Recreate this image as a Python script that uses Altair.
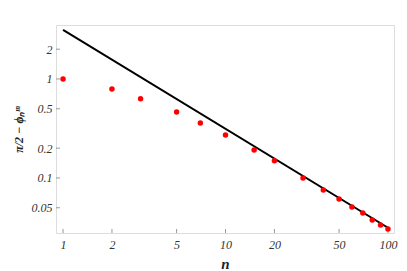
import altair as alt
import pandas as pd

# data
n_pts = [1, 2, 3, 5, 7, 10, 15, 20, 30, 40, 50, 60, 70, 80, 90, 100]
v_pts = [1.0, 0.79, 0.63, 0.464, 0.359, 0.272, 0.192, 0.149, 0.100, 0.0755,
         0.0614, 0.0510, 0.0443, 0.0376, 0.0334, 0.0305]
line_n = [1, 100]
line_v = [3.14, 0.0314]
x_ticks = [1, 2, 5, 10, 20, 50, 100]
y_ticks = [0.05, 0.1, 0.2, 0.5, 1, 2]

W, H = 338, 208
xs = alt.Scale(type="log", domain=[0.905, 108.9], nice=False)
ys = alt.Scale(type="log", domain=[0.0278, 3.51], nice=False)

FONT = "Liberation Serif, Times New Roman, serif"
xaxis = alt.Axis(values=x_ticks, format="~g", title="n", tickSize=0, domain=False,
                 grid=False, labelFont=FONT, labelFontStyle="italic", labelFontSize=12,
                 labelPadding=6, labelColor="#333", titleFont=FONT, titleFontStyle="italic",
                 titleFontWeight="bold", titleFontSize=15, titlePadding=6, titleColor="#222")
yaxis = alt.Axis(values=y_ticks, format="~g", title="π/2 − ϕₙᵐ", tickSize=0, domain=False,
                 grid=False, labelFont=FONT, labelFontStyle="italic", labelFontSize=12,
                 labelPadding=4, labelColor="#333", titleFont=FONT, titleFontStyle="italic",
                 titleFontWeight="bold", titleFontSize=12, titlePadding=6, titleColor="#222")

line_df = pd.DataFrame({"n": line_n, "v": line_v})
pts_df = pd.DataFrame({"n": n_pts, "v": v_pts})

line = alt.Chart(line_df).mark_line(color="black", strokeWidth=2).encode(
    x=alt.X("n:Q", scale=xs, axis=xaxis),
    y=alt.Y("v:Q", scale=ys, axis=yaxis),
)
pts = alt.Chart(pts_df).mark_circle(color="#ff0000", opacity=1, size=30).encode(
    x=alt.X("n:Q", scale=xs),
    y=alt.Y("v:Q", scale=ys),
)
xt = alt.Chart(pd.DataFrame({"n": x_ticks})).mark_rule(color="#999", strokeWidth=1).encode(
    x=alt.X("n:Q", scale=xs), y=alt.value(H), y2=alt.value(H - 4))
yt = alt.Chart(pd.DataFrame({"v": y_ticks})).mark_rule(color="#999", strokeWidth=1).encode(
    y=alt.Y("v:Q", scale=ys), x=alt.value(0), x2=alt.value(4))

chart = alt.layer(xt, yt, line, pts).properties(
    width=W, height=H,
    autosize=alt.AutoSizeParams(type="none"),
    padding={"left": 48, "top": 17, "right": 5, "bottom": 38},
).configure_view(stroke="#b4b4b4", strokeWidth=1).configure(background="white")

chart.save("out.html", embed_options={"renderer": "svg", "actions": False})
